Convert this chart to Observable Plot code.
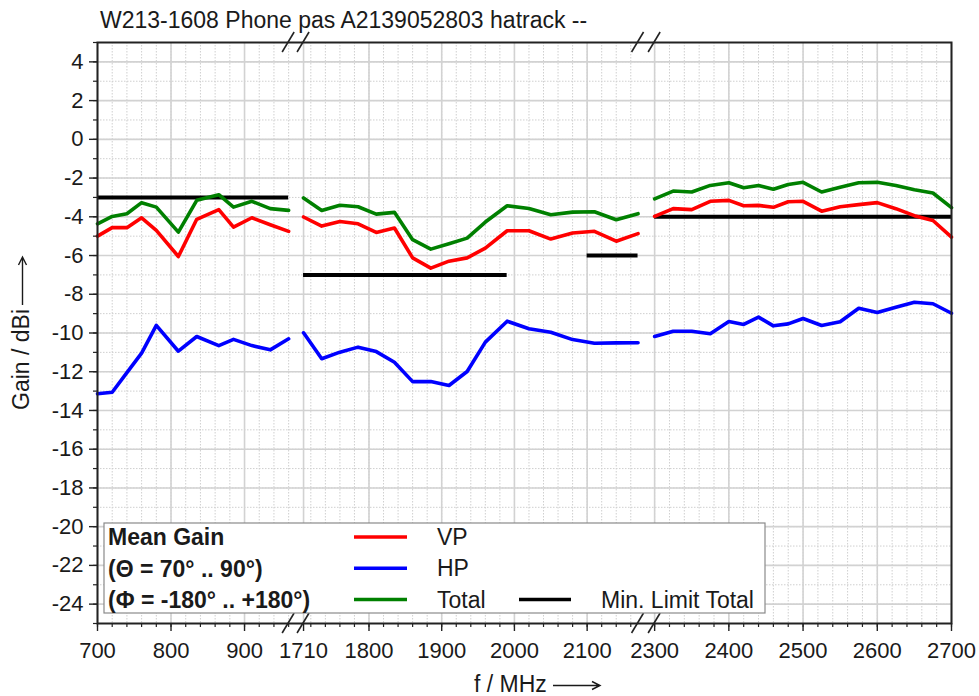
<!DOCTYPE html>
<html><head><meta charset="utf-8">
<script src="https://cdn.jsdelivr.net/npm/d3@7"></script>
<script src="https://cdn.jsdelivr.net/npm/@observablehq/plot@0.6"></script>
<style>body{margin:0;background:#fff;} svg{display:block}</style>
</head><body><div id="chart"></div>
<script>
// ---------- data ----------
const titleText = "W213-1608 Phone pas A2139052803 hatrack --";
const xLabel = "f / MHz";
const yLabel = "Gain / dBi";

const freq1 = [700,720,740,760,780,810,835,865,885,910,935,960];
const vp1 = [-5.0,-4.56,-4.56,-4.05,-4.70,-6.05,-4.13,-3.63,-4.53,-4.05,-4.41,-4.75];
const hp1 = [-13.14,-13.06,-12.05,-11.04,-9.61,-10.94,-10.18,-10.65,-10.33,-10.65,-10.87,-10.30];
const total1 = [-4.36,-3.98,-3.84,-3.27,-3.50,-4.79,-3.15,-2.86,-3.50,-3.20,-3.58,-3.67];

const freq2 = [1710,1735,1760,1785,1810,1835,1860,1885,1910,1935,1960,1990,2020,2050,2080,2110,2140,2170];
const vp2 = [-4.01,-4.48,-4.24,-4.36,-4.81,-4.58,-6.12,-6.65,-6.29,-6.12,-5.62,-4.72,-4.72,-5.15,-4.84,-4.75,-5.26,-4.87];
const hp2 = [-9.99,-11.33,-10.99,-10.73,-10.96,-11.51,-12.51,-12.51,-12.71,-11.99,-10.47,-9.39,-9.78,-9.96,-10.34,-10.53,-10.51,-10.50];
const total2 = [-3.03,-3.67,-3.40,-3.48,-3.86,-3.77,-5.18,-5.67,-5.39,-5.10,-4.27,-3.43,-3.57,-3.89,-3.76,-3.74,-4.15,-3.84];

const freq3 = [2300,2325,2350,2375,2400,2420,2440,2460,2480,2500,2525,2550,2575,2600,2625,2650,2675,2700];
const vp3 = [-3.98,-3.58,-3.63,-3.20,-3.15,-3.43,-3.41,-3.51,-3.22,-3.20,-3.71,-3.48,-3.37,-3.27,-3.58,-3.94,-4.19,-5.05];
const hp3 = [-10.18,-9.91,-9.91,-10.04,-9.41,-9.56,-9.18,-9.63,-9.53,-9.25,-9.61,-9.42,-8.72,-8.94,-8.67,-8.41,-8.49,-8.98];
const total3 = [-3.07,-2.67,-2.72,-2.38,-2.24,-2.50,-2.38,-2.58,-2.33,-2.22,-2.72,-2.47,-2.24,-2.22,-2.38,-2.60,-2.77,-3.53];

const limitStart = [700,1710,2100,2300];
const limitEnd = [960,1990,2170,2700];
const limitValue = [-3,-7,-6,-4];

const xTickValues = [700,800,900,1710,1800,1900,2000,2100,2300,2400,2500,2600,2700];
const yTickValues = [-24,-22,-20,-18,-16,-14,-12,-10,-8,-6,-4,-2,0,2,4];

const seriesNames = ["VP","HP","Total"];
const seriesColors = ["#ff0000","#0000ff","#008000"];
const legendHeader = ["Mean Gain","(\u0398 = 70\u00B0 .. 90\u00B0)","(\u03A6 = -180\u00B0 .. +180\u00B0)"];
const limitLabel = "Min. Limit Total";

// ---------- broken x axis (three frequency segments) ----------
const segments = [
  {from:700, to:960, u0:0, k:0.735},
  {from:1710, to:2170, u0:206, k:0.727},
  {from:2300, to:2700, u0:557, k:0.742}
];
function toU(f){
  for (const s of segments) if (f >= s.from - 1e-9 && f <= s.to + 1e-9) return s.u0 + (f - s.from) * s.k;
  return NaN;
}
const uMax = toU(2700);

const freqs = [freq1, freq2, freq3];
const seriesData = [[vp1,vp2,vp3],[hp1,hp2,hp3],[total1,total2,total3]];
function rowsFor(si){
  const rows = [];
  freqs.forEach((fr, seg) => fr.forEach((f, j) => rows.push({f, v: seriesData[si][seg][j], seg})));
  return rows;
}
const limits = limitStart.map((s, i) => ({f1: s, f2: limitEnd[i], v: limitValue[i]}));

const minorX = [];
segments.forEach(s => { for (let f = Math.ceil(s.from/20)*20; f <= s.to; f += 20) minorX.push(f); });
const minorY = d3.range(-25, 6, 1);
const labelByU = new Map(xTickValues.map(f => [toU(f), String(f)]));

const FONT = "'Liberation Sans', Arial, sans-serif";
const ink = "#1a1a1a";

const chart = Plot.plot({
  width: 979, height: 696,
  marginLeft: 97, marginRight: 28, marginTop: 42, marginBottom: 73,
  x: {domain: [0, uMax]},
  y: {domain: [-25, 5]},
  style: {fontFamily: FONT, fontSize: "22px", color: ink, background: "white"},
  marks: [
    Plot.gridY({ticks: minorY, stroke: "#cfcfcf", strokeOpacity: 1, strokeWidth: 1, strokeDasharray: "1.5,1.5"}),
    Plot.gridX({ticks: minorX.map(toU), stroke: "#cfcfcf", strokeOpacity: 1, strokeWidth: 1, strokeDasharray: "1.5,1.5"}),
    Plot.gridY({ticks: yTickValues, stroke: "#d2d2d2", strokeOpacity: 1, strokeWidth: 1.6}),
    Plot.gridX({ticks: xTickValues.map(toU), stroke: "#d2d2d2", strokeOpacity: 1, strokeWidth: 1.6}),
    Plot.ruleY(limits, {y: "v", x1: d => toU(d.f1), x2: d => toU(d.f2), stroke: "black", strokeWidth: 4}),
    ...seriesNames.map((n, si) => Plot.line(rowsFor(si), {x: d => toU(d.f), y: "v", z: "seg", stroke: seriesColors[si], strokeWidth: 3.6})),
    Plot.axisY({ticks: minorY, tickSize: 4, tickFormat: () => "", label: null, stroke: "#222", strokeWidth: 1.2}),
    Plot.axisY({ticks: yTickValues, tickSize: 8, tickPadding: 6, tickFormat: d => String(d), label: null, stroke: "#222", strokeWidth: 1.4, fill: ink}),
    Plot.axisX({ticks: minorX.map(toU), tickSize: 4, tickFormat: () => "", label: null, stroke: "#222", strokeWidth: 1.2}),
    Plot.axisX({ticks: xTickValues.map(toU), tickSize: 8, tickPadding: 11, tickFormat: u => labelByU.get(u), label: null, stroke: "#222", strokeWidth: 1.4, fill: ink}),
    Plot.frame({stroke: "#222", strokeWidth: 2})
  ]
});

document.getElementById("chart").appendChild(chart);

// ---------- decorations drawn with the plot's own scales ----------
const svg = d3.select(chart);
const xs = chart.scale("x"), ys = chart.scale("y");
const yTop = ys.apply(5), yBot = ys.apply(-25);

// axis-break marks at segment edges
const breakG = svg.append("g").attr("stroke", "#222").attr("stroke-width", 1.6);
[960, 1710, 2170, 2300].forEach(f => {
  const x = xs.apply(toU(f));
  [yTop, yBot].forEach(y => breakG.append("line")
    .attr("x1", x - 6).attr("y1", y + 10).attr("x2", x + 6).attr("y2", y - 10));
});

// title and axis labels
const deco = svg.append("g").attr("font-family", FONT).attr("font-size", 23)
  .attr("fill", ink).attr("text-anchor", "start");
deco.append("text").attr("x", 100).attr("y", 28).text(titleText);
deco.append("text").attr("x", 474).attr("y", 692).text(xLabel);
deco.append("text").attr("transform", "translate(29,410) rotate(-90)").text(yLabel);
// long arrows after the axis labels
const arr = svg.append("g").attr("stroke", ink).attr("stroke-width", 1.4).attr("fill", "none");
arr.append("path").attr("d", "M553,685.5H600M592,681.5L600,685.5L592,689.5");
arr.append("path").attr("d", "M22.5,305V257M18.5,265L22.5,257L26.5,265");

// legend
const lg = svg.append("g").attr("font-family", FONT).attr("font-size", 23).attr("fill", ink)
  .attr("text-anchor", "start");
lg.append("rect").attr("x", 104).attr("y", 523).attr("width", 661).attr("height", 90)
  .attr("fill", "white").attr("stroke", "#8a8a8a").attr("stroke-width", 1.2);
legendHeader.forEach((t, i) => lg.append("text").attr("x", 108).attr("y", 545 + i * 31.5)
  .attr("font-weight", "bold").text(t));
seriesNames.forEach((n, i) => {
  const y = 537 + i * 31.3;
  lg.append("line").attr("x1", 354).attr("x2", 407).attr("y1", y).attr("y2", y)
    .attr("stroke", seriesColors[i]).attr("stroke-width", 3.5);
  lg.append("text").attr("x", 437).attr("y", y + 8).text(n);
});
lg.append("line").attr("x1", 519).attr("x2", 571).attr("y1", 599.6).attr("y2", 599.6)
  .attr("stroke", "black").attr("stroke-width", 3.5);
lg.append("text").attr("x", 601).attr("y", 607.6).text(limitLabel);
</script></body></html>
